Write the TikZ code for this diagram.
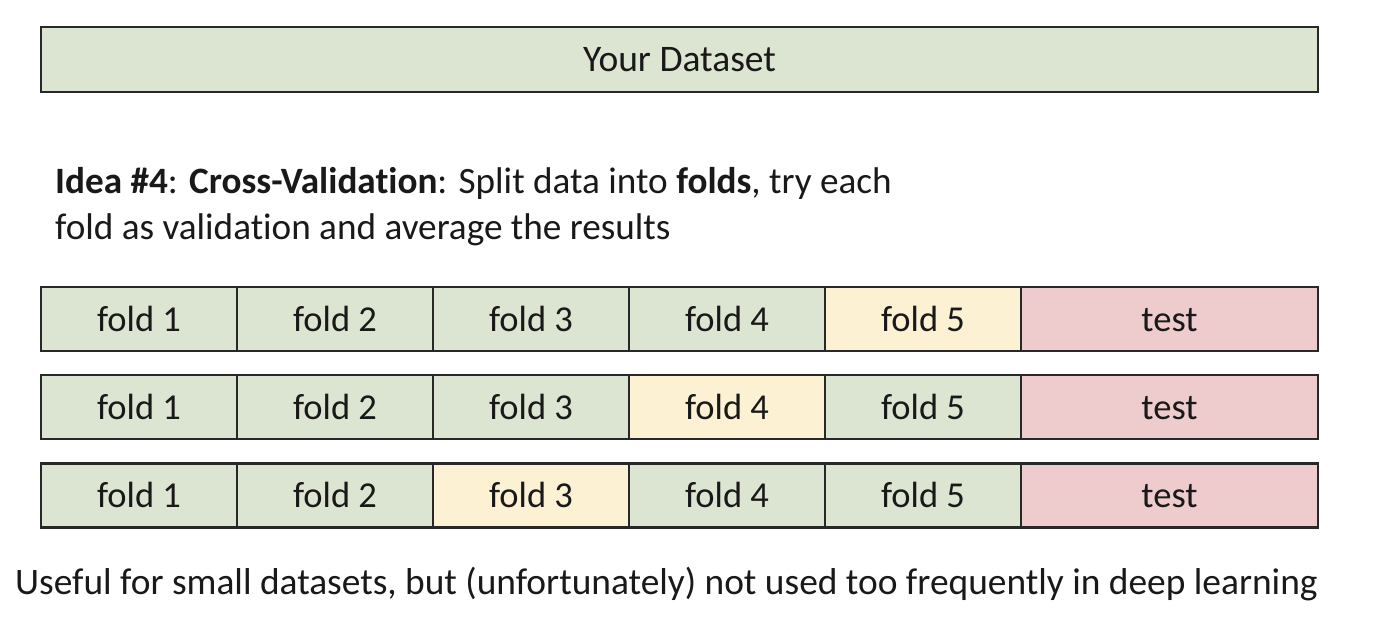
\documentclass[tikz,border=0pt]{standalone}
\usepackage{fontspec}
\setmainfont{Carlito}[Ligatures=NoCommon]
\definecolor{traincol}{RGB}{220,229,210}
\definecolor{valcol}{RGB}{253,241,212}
\definecolor{testcol}{RGB}{238,203,205}
\definecolor{edgecol}{RGB}{40,40,40}
\begin{document}
\begin{tikzpicture}[x=1pt,y=-1pt,
  cell/.style={draw=edgecol,line width=2.4pt,rectangle,inner sep=0pt,
    minimum height=64pt,text height=24pt,text depth=0pt,
    font=\fontsize{36.5}{40}\selectfont,text=black!90},
  foldcell/.style={cell,minimum width=196pt},
  testcell/.style={cell,minimum width=297pt,fill=testcol},
  train/.style={fill=traincol},
  val/.style={fill=valcol},
  plain/.style={inner sep=0pt,anchor=base west,text=black!90}]
\useasboundingbox (0,0) rectangle (1378,624);
\fill[white] (0,0) rectangle (1378,624);

% whole dataset
\node[cell,train,minimum width=1277pt,minimum height=65pt,
  font=\fontsize{37.5}{40}\selectfont] (data) at (679.5,59.5) {Your Dataset};

% description
\node[plain,font=\fontsize{37.2}{42}\selectfont] (idea1) at (55,193)
  {\textbf{Idea \#4}: \textbf{Cross-Validation}: Split data into \textbf{folds}, try each};
\node[plain,font=\fontsize{37.2}{42}\selectfont] (idea2) at (55,239)
  {fold as validation and average the results};

% row 1: fold 5 held out
\node[foldcell,train] (a1) at (139,319) {fold 1};
\node[foldcell,train] (a2) at (335,319) {fold 2};
\node[foldcell,train] (a3) at (531,319) {fold 3};
\node[foldcell,train] (a4) at (727,319) {fold 4};
\node[foldcell,val]   (a5) at (923,319) {fold 5};
\node[testcell]       (at) at (1169.5,319) {test};

% row 2: fold 4 held out
\node[foldcell,train] (b1) at (139,407) {fold 1};
\node[foldcell,train] (b2) at (335,407) {fold 2};
\node[foldcell,train] (b3) at (531,407) {fold 3};
\node[foldcell,val]   (b4) at (727,407) {fold 4};
\node[foldcell,train] (b5) at (923,407) {fold 5};
\node[testcell]       (bt) at (1169.5,407) {test};

% row 3: fold 3 held out
\node[foldcell,train] (c1) at (139,495.5) {fold 1};
\node[foldcell,train] (c2) at (335,495.5) {fold 2};
\node[foldcell,val]   (c3) at (531,495.5) {fold 3};
\node[foldcell,train] (c4) at (727,495.5) {fold 4};
\node[foldcell,train] (c5) at (923,495.5) {fold 5};
\node[testcell]       (ct) at (1169.5,495.5) {test};

% footnote
\node[plain,font=\fontsize{37.4}{42}\selectfont] (note) at (15,594)
  {Useful for small datasets, but (unfortunately) not used too frequently in deep learning};
\end{tikzpicture}
\end{document}
